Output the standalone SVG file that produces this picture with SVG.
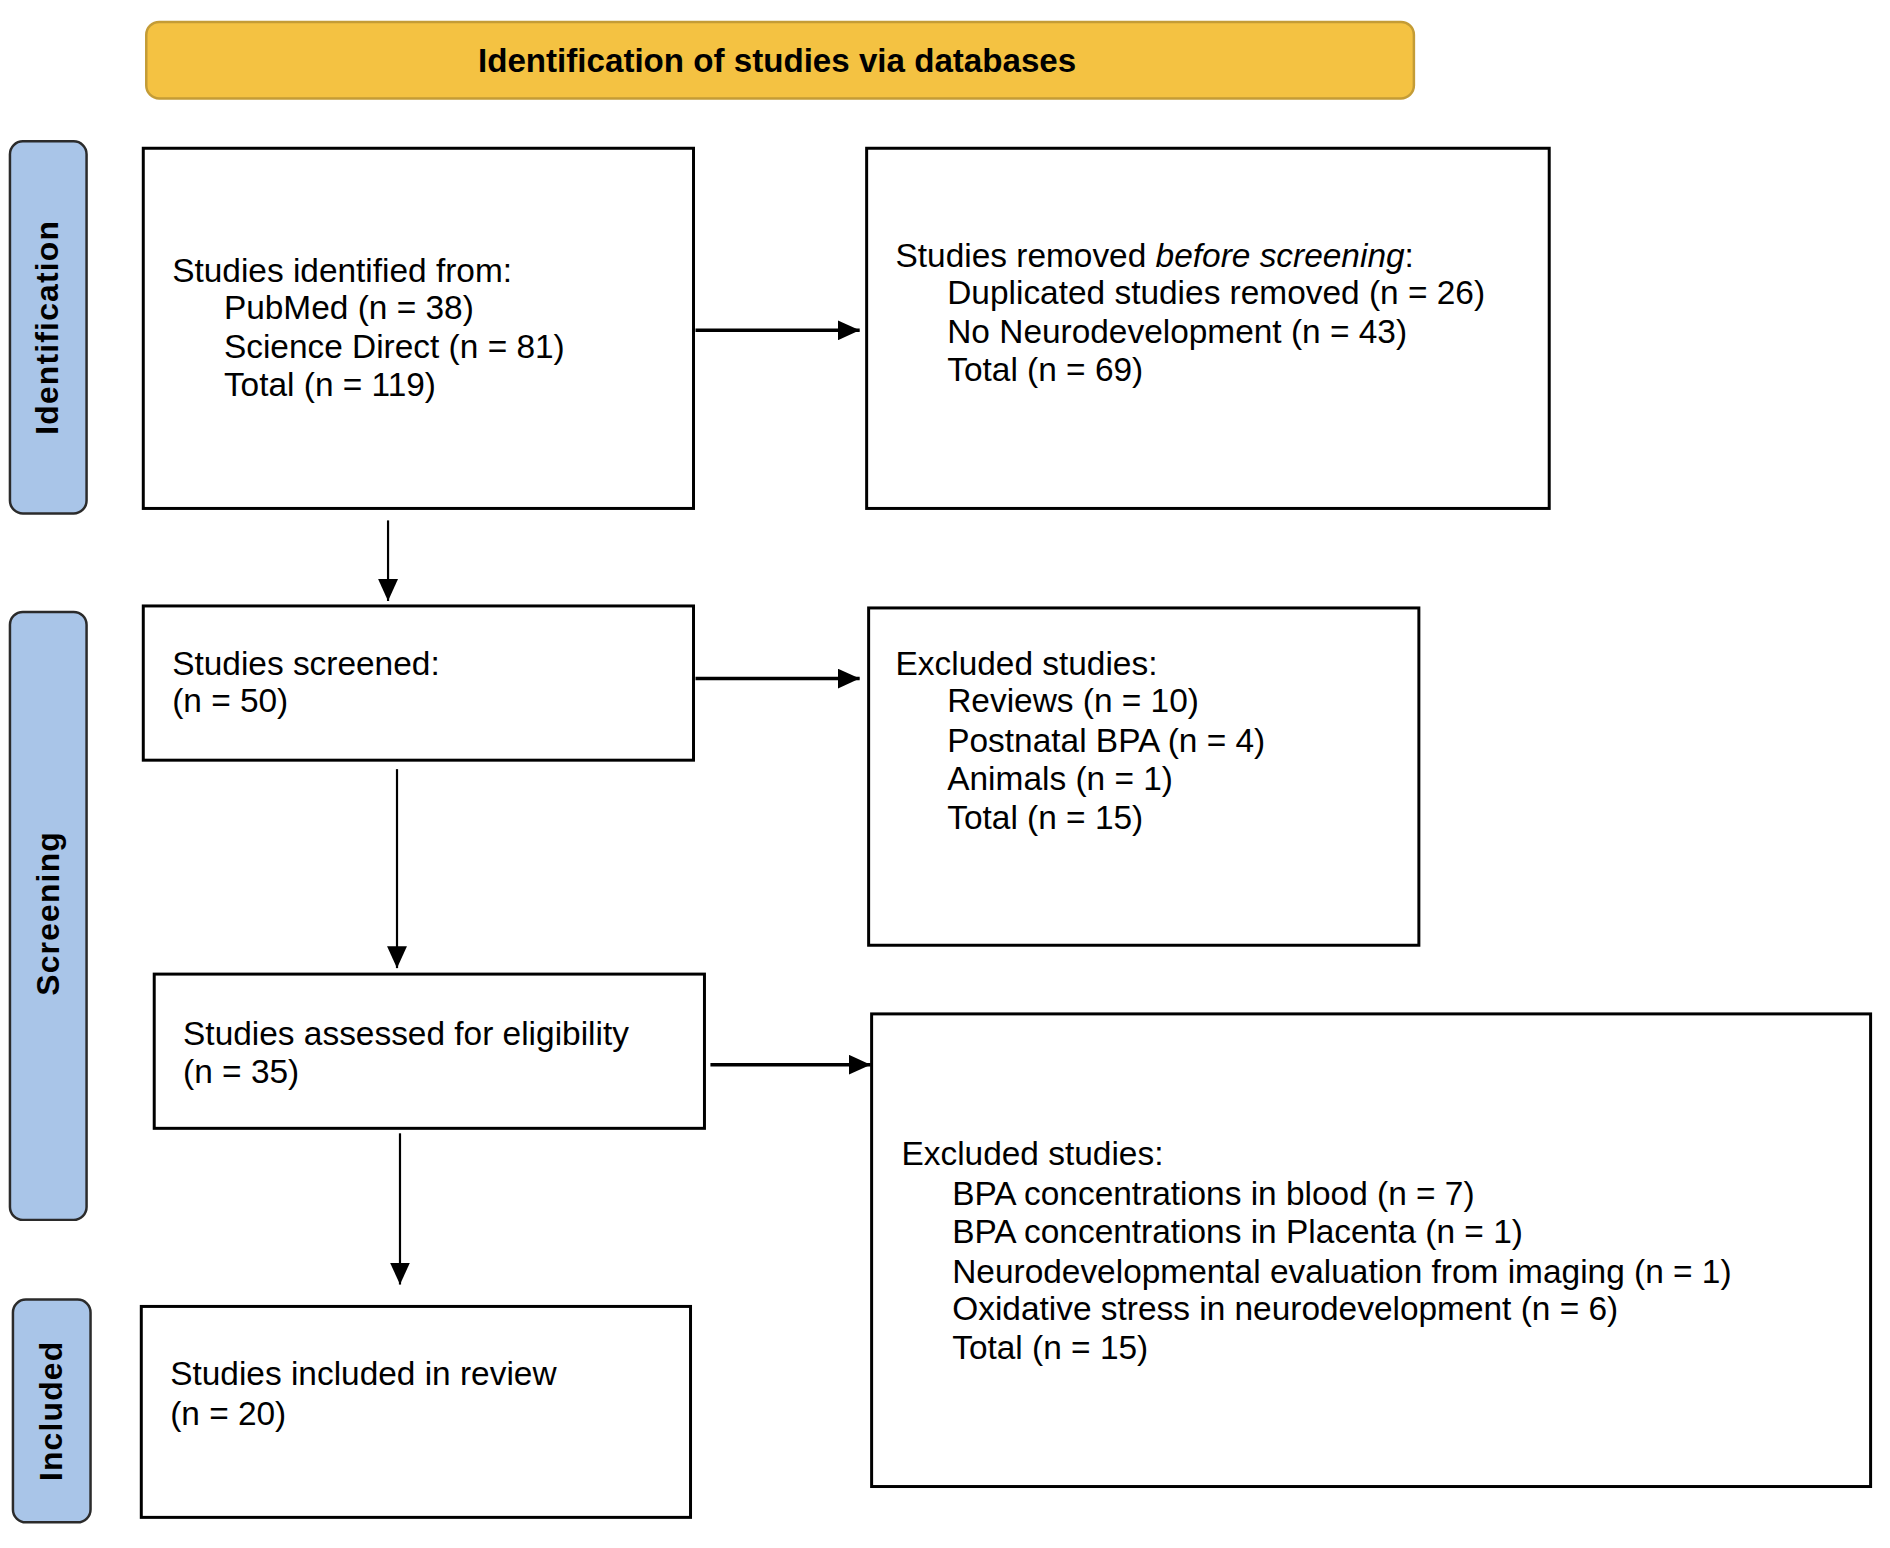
<svg xmlns="http://www.w3.org/2000/svg" width="1890" height="1548" viewBox="0 0 1890 1548">
<style>
.box{fill:#fff;stroke:#000;stroke-width:3}
.phase{fill:#A9C5E8;stroke:#2b2b2b;stroke-width:2.5}
.t{font-family:"Liberation Sans",Arial,sans-serif;font-size:33.6px;fill:#000}
.pt{font-family:"Liberation Sans",Arial,sans-serif;font-size:32px;font-weight:bold;fill:#000;letter-spacing:1.2px}
.h{stroke:#000;stroke-width:3.5;fill:none}
.v{stroke:#000;stroke-width:2.2;fill:none}
</style>
<defs>
<marker id="ah" markerUnits="userSpaceOnUse" viewBox="0 0 22 20" refX="22" refY="10" markerWidth="22" markerHeight="20" orient="auto"><path d="M0,0 L22,10 L0,20 z" fill="#000"/></marker>
</defs>
<rect width="1890" height="1548" fill="#fff"/>
<g transform="scale(0.995)">
<g id="banner">
<rect x="147" y="22" width="1274" height="77" rx="13" fill="#F4C242" stroke="#C49C36" stroke-width="2.5"/>
<text x="781" y="72" text-anchor="middle" font-family="Liberation Sans, Arial, sans-serif" font-size="33.3" font-weight="bold">Identification of studies via databases</text>
</g>

<g id="phase-identification">
<rect class="phase" x="10" y="142" width="77" height="374" rx="13"/>
<text class="pt" transform="translate(47,329) rotate(-90)" text-anchor="middle" dominant-baseline="central">Identification</text>
</g>
<g id="phase-screening">
<rect class="phase" x="10" y="615" width="77" height="611" rx="13"/>
<text class="pt" transform="translate(48,918) rotate(-90)" text-anchor="middle" dominant-baseline="central">Screening</text>
</g>
<g id="phase-included">
<rect class="phase" x="13" y="1306" width="78" height="224" rx="13"/>
<text class="pt" transform="translate(51,1418) rotate(-90)" text-anchor="middle" dominant-baseline="central">Included</text>
</g>

<g id="identified">
<rect class="box" x="144" y="149" width="553" height="362"/>
<text class="t" x="173" y="283">Studies identified from:</text>
<text class="t" x="225" y="321">PubMed (n = 38)</text>
<text class="t" x="225" y="360">Science Direct (n = 81)</text>
<text class="t" x="225" y="398">Total (n = 119)</text>
</g>

<g id="removed">
<rect class="box" x="871" y="149" width="686" height="362"/>
<text class="t" x="900" y="268">Studies removed <tspan font-style="italic">before screening</tspan>:</text>
<text class="t" x="952" y="306">Duplicated studies removed (n = 26)</text>
<text class="t" x="952" y="345">No Neurodevelopment (n = 43)</text>
<text class="t" x="952" y="383">Total (n = 69)</text>
</g>

<g id="screened">
<rect class="box" x="144" y="609" width="553" height="155"/>
<text class="t" x="173" y="678">Studies screened:</text>
<text class="t" x="173" y="716">(n = 50)</text>
</g>

<g id="excluded1">
<rect class="box" x="873" y="611" width="553" height="339"/>
<text class="t" x="900" y="678">Excluded studies:</text>
<text class="t" x="952" y="716">Reviews (n = 10)</text>
<text class="t" x="952" y="756">Postnatal BPA (n = 4)</text>
<text class="t" x="952" y="794">Animals (n = 1)</text>
<text class="t" x="952" y="833">Total (n = 15)</text>
</g>

<g id="eligibility">
<rect class="box" x="155" y="979" width="553" height="155"/>
<text class="t" x="184" y="1050">Studies assessed for eligibility</text>
<text class="t" x="184" y="1088">(n = 35)</text>
</g>

<g id="excluded2">
<rect class="box" x="876" y="1019" width="1004" height="475"/>
<text class="t" x="906" y="1171">Excluded studies:</text>
<text class="t" x="957" y="1211">BPA concentrations in blood (n = 7)</text>
<text class="t" x="957" y="1249">BPA concentrations in Placenta (n = 1)</text>
<text class="t" x="957" y="1289">Neurodevelopmental evaluation from imaging (n = 1)</text>
<text class="t" x="957" y="1327">Oxidative stress in neurodevelopment (n = 6)</text>
<text class="t" x="957" y="1366">Total (n = 15)</text>
</g>

<g id="included">
<rect class="box" x="142" y="1313" width="552" height="212"/>
<text class="t" x="171" y="1392">Studies included in review</text>
<text class="t" x="171" y="1432">(n = 20)</text>
</g>

<g id="connectors">
<path class="h" d="M699,332 H864" marker-end="url(#ah)"/>
<path class="v" d="M390,523 V604" marker-end="url(#ah)"/>
<path class="h" d="M699,682 H864" marker-end="url(#ah)"/>
<path class="v" d="M399,773 V973" marker-end="url(#ah)"/>
<path class="h" d="M714,1070 H875" marker-end="url(#ah)"/>
<path class="v" d="M402,1139 V1291" marker-end="url(#ah)"/>
</g>
</g>
</svg>
